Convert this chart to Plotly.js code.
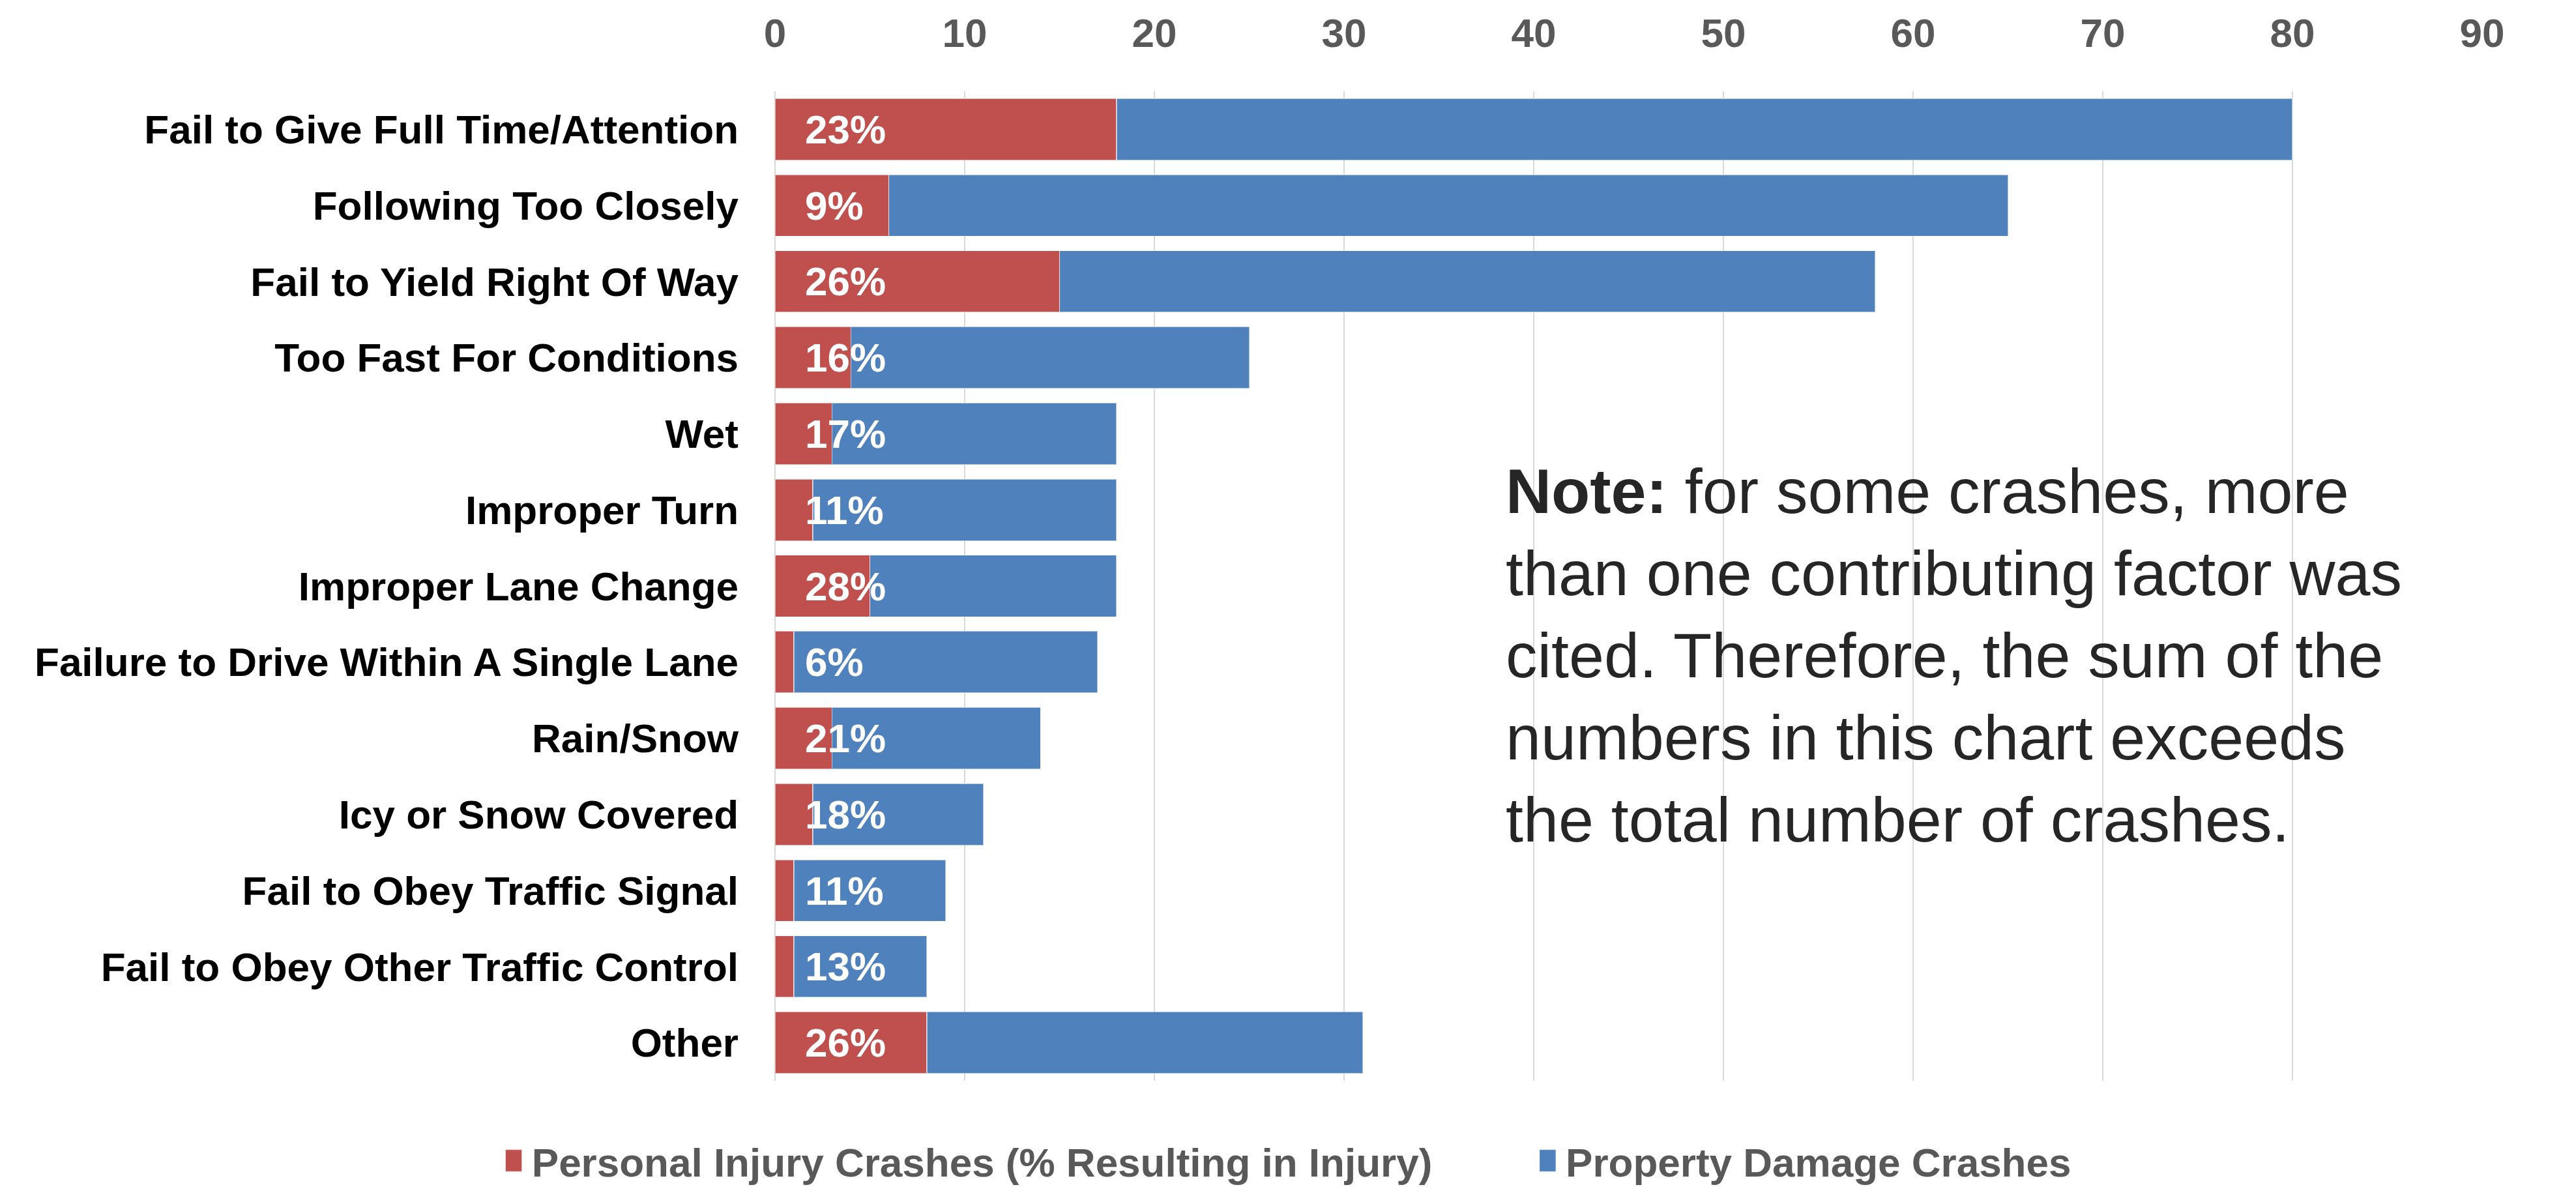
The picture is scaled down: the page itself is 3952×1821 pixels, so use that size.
<!DOCTYPE html>
<html>
<head>
<meta charset="utf-8">
<script src="https://cdn.plot.ly/plotly-3.0.1.min.js"></script>
<style>
  html, body { margin: 0; padding: 0; background: #ffffff; }
  #chart { width: 3952px; height: 1821px; }
</style>
</head>
<body>
<div id="chart"></div>
<script>
// ---- data ----
const categories = [
  "Fail to Give Full Time/Attention",
  "Following Too Closely",
  "Fail to Yield Right Of Way",
  "Too Fast For Conditions",
  "Wet",
  "Improper Turn",
  "Improper Lane Change",
  "Failure to Drive Within A Single Lane",
  "Rain/Snow",
  "Icy or Snow Covered",
  "Fail to Obey Traffic Signal",
  "Fail to Obey Other Traffic Control",
  "Other"
];
const personalInjury = [18, 6, 15, 4, 3, 2, 5, 1, 3, 2, 1, 1, 8];
const propertyDamage = [62, 59, 43, 21, 15, 16, 13, 16, 11, 9, 8, 7, 23];
const injuryPctLabels = ["23%", "9%", "26%", "16%", "17%", "11%", "28%", "6%", "21%", "18%", "11%", "13%", "26%"];
const xTickVals = [0, 10, 20, 30, 40, 50, 60, 70, 80, 90];
const noteText = "<b>Note:</b> for some crashes, more<br>than one contributing factor was<br>cited. Therefore, the sum of the<br>numbers in this chart exceeds<br>the total number of crashes.";

const FONT = "Liberation Sans, Arial, sans-serif";
const legendFont = { family: FONT, size: 62, color: "#595959", weight: "bold" };

const traces = [
  {
    type: "bar", orientation: "h",
    name: "Personal Injury Crashes (% Resulting in Injury)",
    y: categories, x: personalInjury,
    marker: { color: "#C0504D", line: { color: "rgba(255,255,255,0.55)", width: 1.5 } },
    legend: "legend",
    hoverinfo: "skip"
  },
  {
    type: "bar", orientation: "h",
    name: "Property Damage Crashes",
    y: categories, x: propertyDamage,
    marker: { color: "#4F81BD", line: { color: "rgba(255,255,255,0.55)", width: 1.5 } },
    legend: "legend2",
    hoverinfo: "skip"
  }
];

const annotations = categories.map((c, i) => ({
  x: 0, y: c, xref: "x", yref: "y",
  text: injuryPctLabels[i],
  showarrow: false, xanchor: "left", yanchor: "middle",
  xshift: 44,
  font: { family: FONT, size: 62, color: "#ffffff", weight: "bold" }
}));

annotations.push({
  x: 0.4273, y: 0.633, xref: "paper", yref: "paper",
  xanchor: "left", yanchor: "top", align: "left",
  showarrow: false,
  text: noteText,
  font: { family: FONT, size: 97, color: "#262626" }
});

const layout = {
  width: 3952, height: 1821,
  margin: { l: 1189, r: 144, t: 140, b: 163, pad: 0 },
  paper_bgcolor: "#ffffff", plot_bgcolor: "#ffffff",
  barmode: "stack",
  bargap: 0.19,
  showlegend: true,
  legend: {
    orientation: "h",
    xref: "container", yref: "container",
    x: 0.1963, y: 0.048, xanchor: "left", yanchor: "top",
    font: legendFont,
    bgcolor: "rgba(0,0,0,0)"
  },
  legend2: {
    orientation: "h",
    xref: "container", yref: "container",
    x: 0.5977, y: 0.048, xanchor: "left", yanchor: "top",
    font: legendFont,
    bgcolor: "rgba(0,0,0,0)"
  },
  xaxis: {
    side: "top",
    range: [0, 90],
    tickvals: xTickVals,
    ticks: "",
    showgrid: true, gridcolor: "#D9D9D9", gridwidth: 2,
    zeroline: true, zerolinecolor: "#D9D9D9", zerolinewidth: 2,
    showline: false,
    ticklabelstandoff: 55,
    tickfont: { family: FONT, size: 62, color: "#595959", weight: "bold" },
    fixedrange: true
  },
  yaxis: {
    type: "category",
    autorange: "reversed",
    ticks: "",
    showgrid: false, zeroline: false, showline: false,
    ticklabelstandoff: 55,
    tickfont: { family: FONT, size: 62, color: "#000000", weight: "bold" },
    fixedrange: true
  },
  annotations: annotations
};

Plotly.newPlot("chart", traces, layout, { displayModeBar: false, staticPlot: true }).then(function (gd) {
  // enlarge the legend swatches (and leave a gap before the text) like the reference
  gd.querySelectorAll(".legendpoints path").forEach(function (p) {
    p.setAttribute("d", "M5,17H-29V-17H5Z");
  });
});
</script>
</body>
</html>
